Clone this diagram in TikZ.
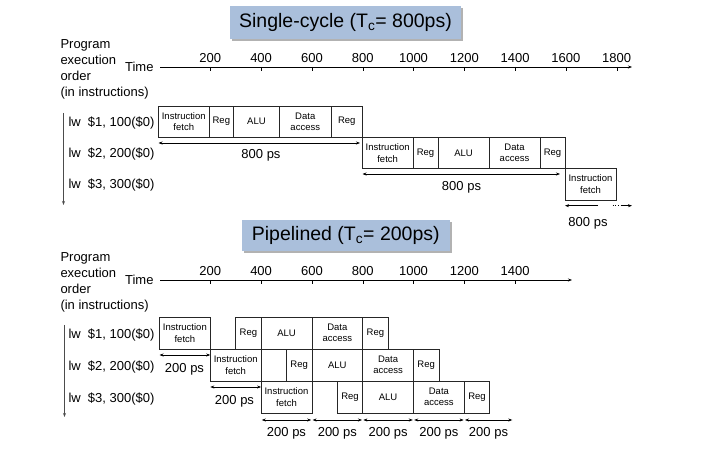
\documentclass[tikz,border=0pt]{standalone}
\usepackage{fontspec}
\setmainfont{Liberation Sans}
\usepackage{tikz}
\usetikzlibrary{arrows.meta}
\usetikzlibrary{shadows}
\pgfdeclarelayer{nodelayer}
\pgfdeclarelayer{edgelayer}
\pgfsetlayers{edgelayer,nodelayer,main}
\definecolor{bannerblue}{RGB}{170,191,219}
\newcommand{\lblfont}{\fontsize{13}{16}\selectfont}
\newcommand{\boxfont}{\fontsize{9.5}{11.4}\selectfont}
\tikzset{>={Stealth[length=4pt,width=3pt]}}
\tikzset{banner/.style={fill=bannerblue, inner sep=0pt, font=\fontsize{19.5}{23}\selectfont,
drop shadow={shadow xshift=2pt, shadow yshift=-2pt, fill=black, opacity=0.3}}}
\tikzset{txt/.style={inner sep=0pt, outer sep=0pt, font=\lblfont}}
\tikzset{instr/.style={txt, anchor=base west}}
\tikzset{note/.style={txt, anchor=base}}
\tikzset{endpt/.style={inner sep=0pt, outer sep=0pt, minimum size=0pt}}
\tikzset{stage/.style={draw=black!85, line width=0.6pt, inner sep=0pt, minimum height=31.3pt,
align=center, font=\boxfont}}
\tikzset{pstage/.style={stage, minimum height=32pt}}
\tikzset{tmark/.style={endpt, label={[txt, label distance=4pt]above:#1},
append after command={[line width=0.6pt]
(\tikzlastnode.center) edge ([yshift=-4pt]\tikzlastnode.center) } } }
\tikzset{span/.style={<->, line width=0.6pt}}
\tikzset{axis/.style={->, line width=0.7pt}}
\tikzset{order/.style={->, line width=0.8pt, draw=black!70}}

\begin{document}
\begin{tikzpicture}[x=1pt, y=-1pt]
	\useasboundingbox (0, 0) rectangle (715, 454);
	\begin{pgfonlayer}{nodelayer}
		% single-cycle
		\node [style=banner, minimum width=231pt, minimum height=33pt] (0) at (345.5, 22.5) {Single-cycle (T\textsubscript{c}= 800ps)};
		\node [style=txt, anchor=north west, align=left] (1) at (60.5, 39.5) {Program\\execution\\order\\(in instructions)};
		\node [style=txt, anchor=east] (2) at (153.5, 67) {Time};
		\node [style=endpt] (3) at (160, 67) {};
		\node [style=endpt] (4) at (632, 67) {};
		\node [tmark=200] (5) at (210.3, 67) {};
		\node [tmark=400] (6) at (261.1, 67) {};
		\node [tmark=600] (7) at (311.9, 67) {};
		\node [tmark=800] (8) at (362.7, 67) {};
		\node [tmark=1000] (9) at (413.5, 67) {};
		\node [tmark=1200] (10) at (464.3, 67) {};
		\node [tmark=1400] (11) at (515.1, 67) {};
		\node [tmark=1600] (12) at (565.9, 67) {};
		\node [tmark=1800] (13) at (616.7, 67) {};
		\node [style=endpt] (14) at (63.5, 113) {};
		\node [style=endpt] (15) at (63.5, 205) {};
		\node [style=instr] (16) at (68.5, 126.3) {lw\ \ \$1, 100(\$0)};
		\node [style=instr] (17) at (68.5, 157.6) {lw\ \ \$2, 200(\$0)};
		\node [style=instr] (18) at (68.5, 188.9) {lw\ \ \$3, 300(\$0)};
		\node [style=stage, minimum width=50.5pt] (19) at (183.75, 121.65) {Instruction\\fetch};
		\node [style=stage, minimum width=24.7pt] (20) at (221.35, 121.65) {Reg};
		\node [style=stage, minimum width=45.5pt] (21) at (256.45, 121.65) {ALU};
		\node [style=stage, minimum width=52.1pt] (22) at (305.25, 121.65) {Data\\access};
		\node [style=stage, minimum width=31pt] (23) at (346.8, 121.65) {Reg};
		\node [style=stage, minimum width=50.7pt] (24) at (387.65, 152.95) {Instruction\\fetch};
		\node [style=stage, minimum width=25pt] (25) at (425.5, 152.95) {Reg};
		\node [style=stage, minimum width=51pt] (26) at (463.5, 152.95) {ALU};
		\node [style=stage, minimum width=51pt] (27) at (514.5, 152.95) {Data\\access};
		\node [style=stage, minimum width=25pt] (28) at (552.5, 152.95) {Reg};
		\node [style=stage, minimum width=51pt] (29) at (590.5, 184.25) {Instruction\\fetch};
		\node [style=endpt] (30) at (158.5, 143) {};
		\node [style=endpt] (31) at (360, 143) {};
		\node [style=note] (32) at (261, 158.6) {800 ps};
		\node [style=endpt] (33) at (362.5, 174) {};
		\node [style=endpt] (34) at (560, 174) {};
		\node [style=note] (35) at (461.5, 190.6) {800 ps};
		\node [style=endpt] (36) at (598, 205.7) {};
		\node [style=endpt] (37) at (565, 205.7) {};
		\node [style=endpt] (38) at (612.5, 205.7) {};
		\node [style=endpt] (39) at (619, 205.7) {};
		\node [style=endpt] (40) at (620.5, 205.7) {};
		\node [style=endpt] (41) at (632, 205.7) {};
		\node [style=note] (42) at (588, 226.6) {800 ps};
		% pipelined
		\node [style=banner, minimum width=208.5pt, minimum height=31pt] (43) at (345.75, 235.5) {Pipelined (T\textsubscript{c}= 200ps)};
		\node [style=txt, anchor=north west, align=left] (44) at (60.5, 252.3) {Program\\execution\\order\\(in instructions)};
		\node [style=txt, anchor=east] (45) at (153.5, 280) {Time};
		\node [style=endpt] (46) at (160, 280) {};
		\node [style=endpt] (47) at (572, 280) {};
		\node [tmark=200] (48) at (210.3, 280) {};
		\node [tmark=400] (49) at (261.1, 280) {};
		\node [tmark=600] (50) at (311.9, 280) {};
		\node [tmark=800] (51) at (362.7, 280) {};
		\node [tmark=1000] (52) at (413.5, 280) {};
		\node [tmark=1200] (53) at (464.3, 280) {};
		\node [tmark=1400] (54) at (515.1, 280) {};
		\node [style=endpt] (55) at (64.5, 325) {};
		\node [style=endpt] (56) at (64.5, 417) {};
		\node [style=instr] (57) at (68.5, 338.5) {lw\ \ \$1, 100(\$0)};
		\node [style=instr] (58) at (68.5, 370.5) {lw\ \ \$2, 200(\$0)};
		\node [style=instr] (59) at (68.5, 402.3) {lw\ \ \$3, 300(\$0)};
		\node [style=pstage, minimum width=50.8pt] (60) at (184.9, 333) {Instruction\\fetch};
		\node [style=pstage, minimum width=25.4pt] (61) at (248.4, 333) {Reg};
		\node [style=pstage, minimum width=50.8pt] (62) at (286.5, 333) {ALU};
		\node [style=pstage, minimum width=50.8pt] (63) at (337.3, 333) {Data\\access};
		\node [style=pstage, minimum width=25.4pt] (64) at (375.4, 333) {Reg};
		\node [style=pstage, minimum width=50.8pt] (65) at (235.7, 365) {Instruction\\fetch};
		\node [style=pstage, minimum width=25.4pt] (66) at (299.2, 365) {Reg};
		\node [style=pstage, minimum width=50.8pt] (67) at (337.3, 365) {ALU};
		\node [style=pstage, minimum width=50.8pt] (68) at (388.1, 365) {Data\\access};
		\node [style=pstage, minimum width=25.4pt] (69) at (426.2, 365) {Reg};
		\node [style=pstage, minimum width=50.8pt] (70) at (286.5, 397) {Instruction\\fetch};
		\node [style=pstage, minimum width=25.4pt] (71) at (350, 397) {Reg};
		\node [style=pstage, minimum width=50.8pt] (72) at (388.1, 397) {ALU};
		\node [style=pstage, minimum width=50.8pt] (73) at (438.9, 397) {Data\\access};
		\node [style=pstage, minimum width=25.4pt] (74) at (477, 397) {Reg};
		\node [style=endpt] (75) at (159.5, 355) {};
		\node [style=endpt] (76) at (210.3, 355) {};
		\node [style=note] (77) at (184.5, 372.3) {200 ps};
		\node [style=endpt] (78) at (210.3, 387) {};
		\node [style=endpt] (79) at (261.1, 387) {};
		\node [style=note] (80) at (234.5, 404.6) {200 ps};
		\node [style=endpt] (81) at (261.1, 420) {};
		\node [style=endpt] (82) at (311.9, 420) {};
		\node [style=endpt] (83) at (362.7, 420) {};
		\node [style=endpt] (84) at (413.5, 420) {};
		\node [style=endpt] (85) at (464.3, 420) {};
		\node [style=endpt] (86) at (513, 420) {};
		\node [style=note] (87) at (286.5, 436.4) {200 ps};
		\node [style=note] (88) at (337.3, 436.4) {200 ps};
		\node [style=note] (89) at (388.1, 436.4) {200 ps};
		\node [style=note] (90) at (438.9, 436.4) {200 ps};
		\node [style=note] (91) at (488.5, 436.4) {200 ps};
	\end{pgfonlayer}
	\begin{pgfonlayer}{edgelayer}
		\draw [style=axis] (3) to (4);
		\draw [style=order] (14) to (15);
		\draw [style=span] (30) to (31);
		\draw [style=span] (33) to (34);
		\draw [->, line width=0.6pt] (36) to (37);
		\draw [line width=0.8pt, dotted] (38) to (39);
		\draw [->, line width=0.6pt] (40) to (41);
		\draw [style=axis] (46) to (47);
		\draw [style=order] (55) to (56);
		\draw [style=span] (75) to (76);
		\draw [style=span] (78) to (79);
		\draw [style=span, shorten <=0.7pt, shorten >=0.7pt] (81) to (82);
		\draw [style=span, shorten <=0.7pt, shorten >=0.7pt] (82) to (83);
		\draw [style=span, shorten <=0.7pt, shorten >=0.7pt] (83) to (84);
		\draw [style=span, shorten <=0.7pt, shorten >=0.7pt] (84) to (85);
		\draw [style=span, shorten <=0.7pt, shorten >=0.7pt] (85) to (86);
	\end{pgfonlayer}
\end{tikzpicture}
\end{document}
